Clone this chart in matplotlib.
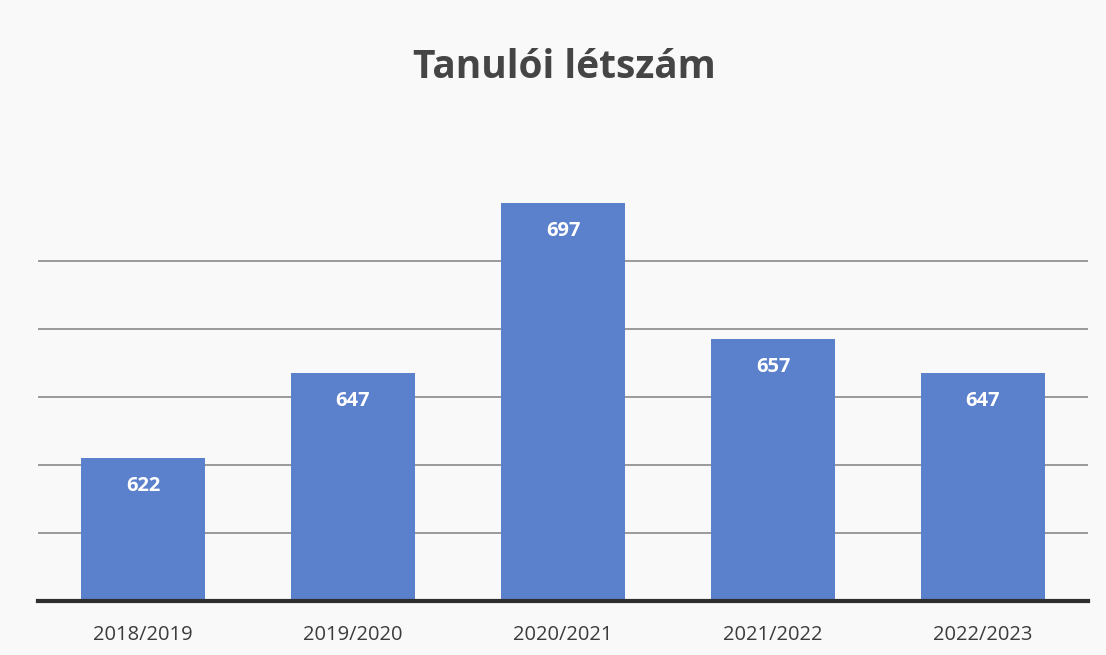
import numpy as np
import matplotlib.pyplot as plt

# Adatok
years = ['2018/2019', '2019/2020', '2020/2021', '2021/2022', '2022/2023']
students = [622, 647, 697, 657, 647]
grid_values = [600, 620, 640, 660, 680]

plt.rcParams['font.family'] = ['Open Sans', 'DejaVu Sans']

fig = plt.figure(figsize=(11.06, 6.55), dpi=100)
fig.patch.set_facecolor('#f9f9f9')
ax = fig.add_axes([38/1106, 1 - 601/655, 1050/1106, 408/655])
ax.set_facecolor('#f9f9f9')

x = np.arange(len(years))
ax.bar(x, students, width=0.595, bottom=0, color='#5b80cc', zorder=2)

ax.set_xlim(-0.5, len(years) - 0.5)
ax.set_ylim(580, 700)

for g in grid_values:
    ax.axhline(g, color='#939393', lw=1.3, zorder=1)
ax.axhline(580, color='#2e2e2e', lw=3, zorder=3, clip_on=False)

for xi, v in zip(x, students):
    ax.text(xi, v - 8.2, str(v), ha='center', va='center', color='white',
            fontsize=14.5, fontweight='bold', zorder=4)

ax.set_xticks(x)
ax.set_xticklabels(years, fontsize=14.5, color='#3c3c3c')
ax.tick_params(axis='x', length=0, pad=17)
ax.set_yticks([])
for s in ax.spines.values():
    s.set_visible(False)

fig.text(564/1106, 1 - 67/655, 'Tanulói létszám', ha='center', va='center',
         fontsize=28, fontweight='bold', color='#454545')

fig.savefig('out.png', dpi=100, facecolor=fig.get_facecolor())
